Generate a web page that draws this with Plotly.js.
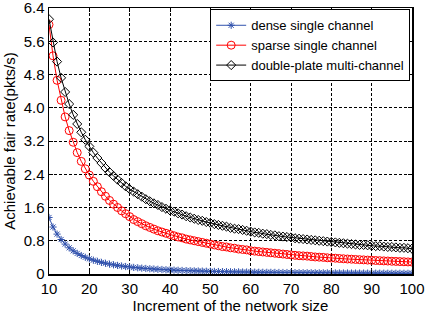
<!DOCTYPE html>
<html>
<head>
<meta charset="utf-8">
<script src="https://cdn.plot.ly/plotly-3.0.1.min.js"></script>
<style>html,body{margin:0;padding:0;background:#fff}#chart{width:425px;height:319px}</style>
</head>
<body>
<div id="chart"></div>
<script>
var networkSize = [10,11,12,13,14,15,16,17,18,19,20,21,22,23,24,25,26,27,28,29,30,31,32,33,34,35,36,37,38,39,40,41,42,43,44,45,46,47,48,49,50,51,52,53,54,55,56,57,58,59,60,61,62,63,64,65,66,67,68,69,70,71,72,73,74,75,76,77,78,79,80,81,82,83,84,85,86,87,88,89,90,91,92,93,94,95,96,97,98,99,100];

var denseSingle = [1.36,1.13,0.96,0.83,0.72,0.63,0.557,0.496,0.445,0.402,0.364,0.332,0.304,0.279,0.258,0.238,0.221,0.206,0.192,0.180,0.169,0.158,0.149,0.141,0.133,0.126,0.119,0.113,0.108,0.102,0.098,0.093,0.089,0.085,0.081,0.078,0.075,0.072,0.069,0.066,0.064,0.062,0.059,0.057,0.055,0.053,0.051,0.050,0.048,0.047,0.045,0.044,0.042,0.041,0.040,0.039,0.038,0.037,0.036,0.035,0.034,0.033,0.032,0.031,0.031,0.030,0.029,0.028,0.028,0.027,0.026,0.026,0.025,0.024,0.024,0.023,0.023,0.022,0.022,0.021,0.021,0.020,0.020,0.020,0.019,0.019,0.018,0.018,0.018,0.017,0.017];

var sparseSingle = [6.00,5.25,4.66,4.18,3.78,3.45,3.17,2.92,2.71,2.53,2.38,2.23,2.10,1.98,1.87,1.77,1.68,1.60,1.52,1.45,1.38,1.31,1.26,1.21,1.16,1.12,1.08,1.04,1.01,0.98,0.95,0.92,0.89,0.87,0.84,0.82,0.80,0.78,0.76,0.74,0.72,0.70,0.68,0.66,0.65,0.63,0.62,0.60,0.59,0.58,0.56,0.55,0.54,0.53,0.52,0.51,0.50,0.49,0.48,0.47,0.46,0.45,0.44,0.435,0.43,0.42,0.41,0.405,0.40,0.39,0.385,0.38,0.373,0.367,0.361,0.356,0.350,0.345,0.340,0.335,0.330,0.325,0.321,0.316,0.312,0.307,0.303,0.299,0.295,0.291,0.287];

var doublePlate = [6.13,5.57,5.11,4.72,4.38,4.09,3.83,3.61,3.41,3.23,3.07,2.92,2.79,2.67,2.55,2.45,2.36,2.27,2.19,2.11,2.04,1.98,1.92,1.86,1.80,1.75,1.70,1.66,1.61,1.57,1.53,1.50,1.46,1.43,1.39,1.36,1.33,1.30,1.28,1.25,1.23,1.20,1.18,1.16,1.14,1.11,1.09,1.08,1.06,1.04,1.02,1.00,0.99,0.97,0.96,0.94,0.93,0.91,0.90,0.89,0.88,0.86,0.85,0.84,0.83,0.82,0.81,0.80,0.79,0.78,0.77,0.76,0.75,0.74,0.73,0.72,0.71,0.70,0.70,0.69,0.68,0.67,0.67,0.66,0.65,0.65,0.64,0.63,0.63,0.62,0.61];

var seriesNames = ['dense single channel','sparse single channel','double-plate multi-channel'];
var xTickVals = [10,20,30,40,50,60,70,80,90,100];
var yTickVals = [0,0.8,1.6,2.4,3.2,4.0,4.8,5.6,6.4];
var yTickText = ['0','0.8','1.6','2.4','3.2','4.0','4.8','5.6','6.4'];

var FONT = 'Liberation Sans, Arial, sans-serif';

var traces = [
  {x: networkSize, y: denseSingle, name: seriesNames[0], type: 'scatter', mode: 'lines+markers',
   line: {color: '#3152ad', width: 1},
   marker: {symbol: 'asterisk-open', size: 6, color: '#3152ad', line: {color: '#3152ad', width: 1}}},
  {x: networkSize, y: sparseSingle, name: seriesNames[1], type: 'scatter', mode: 'lines+markers',
   line: {color: '#ff0000', width: 1},
   marker: {symbol: 'circle-open', size: 8, color: '#ff0000', line: {color: '#ff0000', width: 1}}},
  {x: networkSize, y: doublePlate, name: seriesNames[2], type: 'scatter', mode: 'lines+markers',
   line: {color: '#000000', width: 1},
   marker: {symbol: 'diamond-open', size: 7, color: '#000000', line: {color: '#000000', width: 1}}}
];

var axisCommon = {
  showline: true, linecolor: '#000', linewidth: 1.5, mirror: 'ticks',
  ticks: 'inside', ticklen: 4, tickcolor: '#000',
  showgrid: true, gridcolor: '#000', gridwidth: 1, griddash: '3px,2px',
  zeroline: false, ticklabeloverflow: 'allow',
  tickfont: {family: FONT, size: 15, color: '#000'}
};

var layout = {
  width: 425, height: 319,
  margin: {l: 49, r: 13, t: 8, b: 45},
  paper_bgcolor: '#fff', plot_bgcolor: '#fff',
  font: {family: FONT, color: '#000'},
  showlegend: true,
  legend: {x: 0.995, y: 0.995, xanchor: 'right', yanchor: 'top',
           bgcolor: '#fff', bordercolor: '#000', borderwidth: 1,
           font: {size: 13, color: '#000', family: FONT},
           tracegroupgap: 0, itemwidth: 30},
  xaxis: Object.assign({}, axisCommon, {
    range: [10, 100], tickvals: xTickVals, ticktext: xTickVals.map(String),
    title: {text: 'Increment of the network size', font: {size: 15, color: '#000', family: FONT}, standoff: 2}
  }),
  yaxis: Object.assign({}, axisCommon, {
    range: [0, 6.4], tickvals: yTickVals, ticktext: yTickText,
    title: {text: 'Achievable fair rate(pkts/s)', font: {size: 15, color: '#000', family: FONT}, standoff: 4}
  })
};

Plotly.newPlot('chart', traces, layout, {displayModeBar: false, staticPlot: true});
</script>
</body>
</html>
